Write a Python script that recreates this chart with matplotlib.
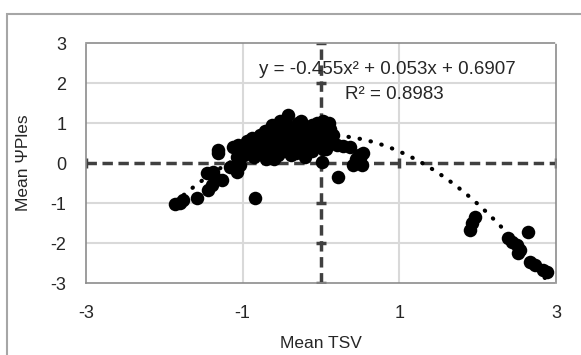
import matplotlib.pyplot as plt
import matplotlib.patches as mpatches
import numpy as np

# // Mean TSV vs Mean PsiPles points
tsv = [-1.86, -1.80, -1.76, -1.58, -1.44, -1.39, -1.35, -1.46, -1.38, -1.26, -1.32, -1.32,
       -1.16, -1.12, -1.07, -1.06, -1.00, -1.03, -1.07, -0.84,
       -0.95, -0.90, -0.88, -0.85, -0.80, -0.78, -0.75, -0.72, -0.70, -0.68, -0.65, -0.62,
       -0.60, -0.58, -0.55, -0.52, -0.50, -0.48, -0.45, -0.42, -0.40, -0.38, -0.36, -0.33,
       -0.30, -0.28, -0.25, -0.22, -0.20, -0.18, -0.15, -0.12, -0.10, -0.08, -0.05, -0.02,
       0.00, 0.02, 0.05, 0.08, 0.10, 0.12, 0.15, 0.01, 0.20, 0.28, 0.37, 0.45, 0.52, 0.54,
       0.41, 0.48, 0.50, 0.22,
       -0.98, -0.92, -0.82, -0.74, -0.66, -0.57, -0.47, -0.43, -0.35, -0.27, -0.17, -0.07,
       0.03, 0.13, -0.62, -0.52, -0.32, -0.12, -0.85, -0.70, -0.55, -0.25, 0.06,
       1.90, 1.93, 1.97, 2.39, 2.44, 2.50, 2.54, 2.52, 2.64, 2.67, 2.73, 2.84, 2.88]
ples = [-1.02, -1.00, -0.93, -0.88, -0.68, -0.55, -0.38, -0.25, -0.22, -0.43, 0.25, 0.33,
        -0.10, 0.40, 0.15, 0.45, 0.33, -0.05, -0.22, -0.88,
        0.55, 0.30, 0.62, 0.45, 0.40, 0.70, 0.55, 0.80, 0.25, 0.60, 0.85, 0.45,
        0.10, 0.70, 0.90, 0.35, 0.60, 0.80, 1.00, 1.20, 0.50, 0.20, 0.85, 0.65,
        1.00, 0.40, 0.75, 0.90, 0.15, 0.55, 0.80, 0.95, 0.45, 0.70, 1.00, 0.85,
        0.60, 1.05, 0.90, 0.75, 1.00, 0.85, 0.70, 0.03, 0.45, 0.42, 0.40, 0.10, -0.05, 0.25,
        -0.05, 0.20, 0.12, -0.36,
        0.20, 0.48, 0.25, 0.35, 0.72, 0.50, 0.30, 0.65, 0.45, 0.60, 0.30, 0.55,
        0.35, 0.50, 0.95, 1.05, 0.25, 0.30, 0.15, 0.10, 0.20, 1.05, 0.35,
        -1.68, -1.50, -1.35, -1.88, -1.97, -2.05, -2.18, -2.25, -1.72, -2.47, -2.55, -2.68, -2.72]

# // Polynomial trendline coefficients from the label
coef = [-0.455, 0.053, 0.6907]
r2 = 0.8983

plt.rcParams['font.family'] = ['Liberation Sans', 'DejaVu Sans']
plt.rcParams['axes.unicode_minus'] = False
fig = plt.figure(figsize=(5.81, 3.55), dpi=100)
ax = fig.add_axes([86/581, 1-283/355, 470/581, 240/355])

# // outer chart border (cut at right and bottom)
fig.patches.append(mpatches.Rectangle((7/581, -0.1), 1.2, 1-14/355+0.1, transform=fig.transFigure,
                                      fill=False, edgecolor="#a6a6a6", linewidth=1.5))

ax.set_xlim(-3, 3)
ax.set_ylim(-3, 3)

# // light grid
for gx in [-1, 1]:
    ax.axvline(gx, color="#d9d9d9", linewidth=1.5, zorder=0)
for gy in [-2, -1, 1, 2]:
    ax.axhline(gy, color="#d9d9d9", linewidth=1.5, zorder=0)

# // dashed axis lines through zero
ax.axhline(0, color="#404040", linewidth=2.5, linestyle=(0, (3, 1.6)), zorder=1)
ax.axvline(0, color="#404040", linewidth=2.5, linestyle=(0, (3, 1.6)), zorder=1)
ax.plot(np.zeros(7), np.arange(-3, 4), linestyle="none", marker="_", markersize=7,
        markeredgewidth=2.5, color="#404040", zorder=1)
ax.plot([-3, -1, 1, 3], np.zeros(4), linestyle="none", marker="|", markersize=7,
        markeredgewidth=2.5, color="#404040", zorder=1)

for sp in ax.spines.values():
    sp.set_linestyle((0, (2, 1)))
    sp.set_color("#8c8c8c")
    sp.set_linewidth(1.2)

ax.scatter(tsv, ples, s=95, color="black", zorder=3, linewidths=0)

# // dotted trendline
xt = np.linspace(-1.86, 2.92, 200)
ax.plot(xt, np.polyval(coef, xt), color="black", linestyle=(0, (0.1, 2.6)),
        linewidth=3, dash_capstyle="round", zorder=4)

ax.set_xticks([-3, -1, 1, 3])
ax.set_yticks(range(-3, 4))
ax.tick_params(length=0, labelsize=13, colors="#262626", pad=14)
ax.tick_params(axis="x", pad=16)
ax.set_xlabel("Mean TSV", fontsize=12.5, color="#262626", labelpad=10)
ax.set_ylabel("Mean ΨPles", fontsize=12.5, color="#262626", labelpad=14)

ax.text(0.85, 2.35, "y = -0.455x² + 0.053x + 0.6907", fontsize=13.5, ha="center", va="center",
        color="#262626", zorder=5)
ax.text(0.93, 1.72, "R² = 0.8983", fontsize=13.5, ha="center", va="center",
        color="#262626", zorder=5)

plt.savefig("out.png", dpi=100)
